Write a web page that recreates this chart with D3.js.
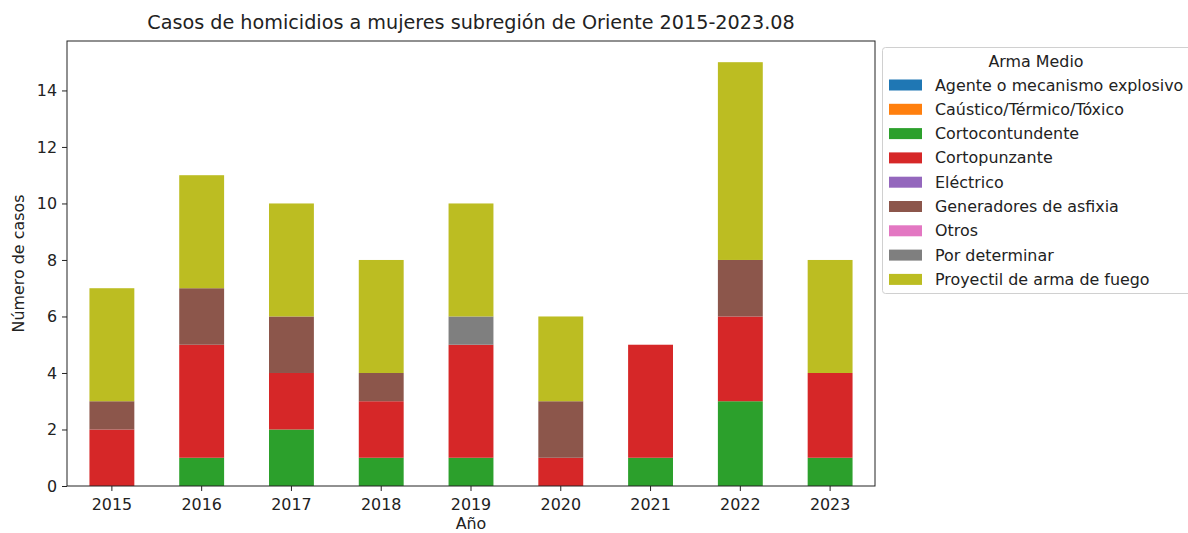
<!DOCTYPE html>
<html><head><meta charset="utf-8">
<script src="https://cdn.jsdelivr.net/npm/d3@7"></script>
<style>body{margin:0;background:#fff}svg{font-family:"DejaVu Sans",sans-serif}</style>
</head><body><svg id="c" width="1188" height="533"></svg>
<script>
const years = ["2015","2016","2017","2018","2019","2020","2021","2022","2023"];
const seriesNames = ["Agente o mecanismo explosivo","Caústico/Térmico/Tóxico","Cortocontundente","Cortopunzante","Eléctrico","Generadores de asfixia","Otros","Por determinar","Proyectil de arma de fuego"];
const colors = ["#1f77b4","#ff7f0e","#2ca02c","#d62728","#9467bd","#8c564b","#e377c2","#7f7f7f","#bcbd22"];
const agente        = [0,0,0,0,0,0,0,0,0];
const caustico      = [0,0,0,0,0,0,0,0,0];
const cortocontund  = [0,1,2,1,1,0,1,3,1];
const cortopunzante = [2,4,2,2,4,1,4,3,3];
const electrico     = [0,0,0,0,0,0,0,0,0];
const generadores   = [1,2,2,1,0,2,0,2,0];
const otros         = [0,0,0,0,0,0,0,0,0];
const porDeterminar = [0,0,0,0,1,0,0,0,0];
const proyectil     = [4,4,4,4,4,3,0,7,4];
const yTicks = [0,2,4,6,8,10,12,14];
const title = "Casos de homicidios a mujeres subregión de Oriente 2015-2023.08";

const seriesVals = [agente,caustico,cortocontund,cortopunzante,electrico,generadores,otros,porDeterminar,proyectil];
const table = years.map((y,i)=>{const o={year:y};seriesNames.forEach((s,j)=>o[s]=seriesVals[j][i]);return o;});
const stack = d3.stack().keys(seriesNames)(table);

const svg = d3.select("#c");
const L=67, R=875, T=41, B=486;
const x = d3.scaleBand().domain(years).range([L,R]).paddingInner(0.5).paddingOuter(0.25);
const totals = table.map(d=>d3.sum(seriesNames,s=>d[s]));
const y = d3.scaleLinear().domain([0, d3.max(totals)*1.05]).range([B,T]);

const g = svg.append("g");
stack.forEach((layer,j)=>{
  g.selectAll(null).data(layer).join("rect")
    .attr("x",d=>x(d.data.year)).attr("width",x.bandwidth())
    .attr("y",d=>y(d[1])).attr("height",d=>y(d[0])-y(d[1]))
    .attr("fill",colors[j]);
});

const fs = 15.9;
const xa = svg.append("g").attr("transform",`translate(0,${B})`).call(d3.axisBottom(x).tickSize(5).tickPadding(5));
const ya = svg.append("g").attr("transform",`translate(${L},0)`).call(d3.axisLeft(y).tickValues(yTicks).tickSize(5).tickPadding(5));
[xa,ya].forEach(a=>{a.select(".domain").remove();a.selectAll("text").attr("font-size",fs).attr("fill","#222").attr("font-family","DejaVu Sans");a.selectAll("line").attr("stroke","#222");});
xa.selectAll("text").attr("dy","0.85em");

svg.append("rect").attr("x",L).attr("y",T).attr("width",R-L).attr("height",B-T).attr("fill","none").attr("stroke","#222").attr("stroke-width",1);

svg.append("text").attr("x",(L+R)/2).attr("y",29).attr("text-anchor","middle").attr("font-size",19.2).attr("fill","#222").text(title);
svg.append("text").attr("x",(L+R)/2).attr("y",529).attr("text-anchor","middle").attr("font-size",fs).attr("fill","#222").text("Año");
svg.append("text").attr("transform",`translate(24,${(T+B)/2}) rotate(-90)`).attr("text-anchor","middle").attr("font-size",fs).attr("fill","#222").text("Número de casos");

// legend
const lg = svg.append("g");
lg.append("rect").attr("x",882.5).attr("y",47.5).attr("width",330).attr("height",246).attr("rx",3).attr("fill","#fff").attr("stroke","#d0d0d0");
lg.append("text").attr("x",1036).attr("y",67).attr("text-anchor","middle").attr("font-size",fs).attr("fill","#222").text("Arma Medio");
seriesNames.forEach((s,i)=>{
  const cy = 85 + i*24.3;
  lg.append("rect").attr("x",889).attr("y",cy-5.5).attr("width",33).attr("height",11).attr("fill",colors[i]);
  lg.append("text").attr("x",935).attr("y",cy+5.5).attr("font-size",fs).attr("fill","#222").text(s);
});
</script></body></html>
